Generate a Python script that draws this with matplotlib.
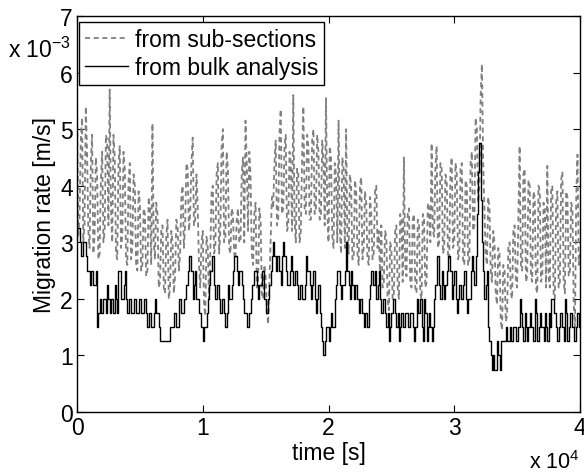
import matplotlib
matplotlib.use("Agg")
import matplotlib.pyplot as plt
import numpy as np

plt.rcParams['font.family'] = ['Liberation Sans', 'DejaVu Sans']

# time axis (s), one sample every 100 s
time_s = np.arange(0, 40001, 100)

# migration rate from sub-sections (x 1e-3 m/s), rows of 1000 s
sub_sections = [
    5.7, 3.1, 3.4, 4.8, 5.2, 3.0, 3.3, 5.4, 4.6, 3.2,
    2.9, 4.4, 4.9, 2.8, 3.1, 4.5, 4.2, 2.7, 2.8, 4.1,
    4.6, 3.0, 3.2, 4.9, 4.8, 3.3, 5.7, 3.6, 3.0, 4.9,
    4.5, 2.8, 2.7, 4.4, 4.7, 2.9, 3.1, 4.6, 4.3, 2.7,
    2.6, 4.1, 4.4, 2.7, 2.9, 4.2, 4.0, 2.6, 2.5, 3.9,
    3.7, 2.5, 2.6, 3.6, 3.5, 2.4, 2.5, 3.8, 3.6, 2.6,
    5.1, 3.0, 2.7, 3.7, 3.5, 2.2, 2.3, 3.2, 3.3, 2.2,
    2.1, 3.1, 3.4, 2.0, 2.2, 3.2, 3.0, 2.1, 2.4, 3.4,
    3.3, 2.5, 2.8, 3.8, 4.0, 2.9, 3.3, 4.4, 4.3, 3.2,
    3.5, 4.4, 4.85, 3.3, 3.4, 4.2, 3.6, 2.6, 2.2, 3.0,
    3.2, 1.9, 1.7, 3.1, 2.9, 2.0, 2.8, 3.9, 4.0, 2.8,
    2.9, 4.2, 4.4, 2.8, 3.2, 4.7, 5.0, 3.0, 3.1, 4.6,
    4.3, 2.9, 2.8, 3.6, 3.5, 2.8, 2.7, 3.4, 3.6, 3.0,
    3.0, 4.2, 4.5, 3.0, 5.15, 4.4, 3.2, 4.6, 4.2, 2.8,
    2.6, 3.5, 3.7, 2.2, 2.3, 3.6, 3.4, 2.1, 2.0, 2.6,
    2.4, 1.8, 1.55, 2.3, 3.0, 3.8, 3.6, 4.4, 4.8, 3.3,
    3.4, 4.9, 5.35, 3.5, 3.6, 4.7, 4.9, 3.2, 3.3, 4.6,
    4.4, 3.2, 5.6, 3.4, 3.0, 4.3, 4.2, 3.0, 3.2, 4.5,
    5.4, 3.6, 3.5, 4.9, 4.7, 3.4, 3.4, 4.8, 5.0, 3.5,
    3.6, 4.9, 4.6, 3.4, 3.5, 4.8, 4.4, 3.3, 5.55, 3.6,
    3.0, 4.7, 4.5, 3.1, 2.9, 4.4, 4.2, 3.0, 5.15, 3.2,
    2.8, 4.5, 4.3, 2.9, 5.0, 3.1, 2.8, 4.2, 4.0, 2.7,
    2.7, 4.1, 3.9, 2.8, 2.6, 4.0, 4.15, 2.7, 2.9, 3.9,
    3.7, 2.7, 2.6, 3.8, 3.5, 2.7, 2.8, 3.9, 4.0, 2.9,
    3.2, 2.4, 3.3, 2.2, 2.3, 3.2, 3.1, 2.0, 1.8, 3.0,
    2.9, 2.0, 2.1, 3.2, 3.3, 2.2, 2.0, 3.5, 3.4, 2.3,
    4.5, 2.6, 2.4, 3.5, 3.6, 2.3, 2.2, 3.4, 3.5, 2.2,
    2.1, 3.4, 3.3, 2.1, 2.0, 3.5, 3.4, 2.2, 2.3, 3.7,
    3.6, 3.0, 4.75, 3.2, 3.1, 4.3, 4.7, 2.9, 3.0, 4.4,
    4.3, 2.8, 2.9, 4.2, 4.1, 2.8, 2.7, 4.3, 4.5, 2.9,
    3.0, 4.4, 4.2, 2.7, 2.8, 4.3, 4.4, 2.7, 2.6, 4.1,
    4.0, 2.6, 2.7, 4.4, 4.6, 3.2, 3.3, 5.2, 5.0, 3.7,
    4.0, 5.6, 6.15, 4.4, 3.6, 2.8, 2.6, 3.8, 3.6, 2.5,
    2.3, 3.2, 3.0, 2.1, 1.9, 2.9, 2.8, 1.6, 1.45, 2.6,
    2.5, 1.6, 1.7, 2.9, 3.0, 2.1, 2.0, 3.2, 3.3, 2.3,
    2.2, 3.5, 4.7, 2.6, 2.5, 4.2, 4.3, 2.3, 2.4, 4.1,
    4.0, 2.4, 2.3, 3.9, 3.8, 2.2, 2.1, 4.0, 3.9, 2.3,
    2.4, 3.7, 3.6, 2.2, 4.35, 2.4, 2.2, 3.9, 4.0, 2.1,
    2.0, 3.7, 3.9, 2.2, 2.3, 4.1, 4.25, 2.3, 2.1, 3.9,
    3.8, 2.4, 2.5, 3.7, 3.6, 1.9, 1.5, 3.8, 4.55, 2.6,
    2.8,
]

# migration rate from bulk analysis (x 1e-3 m/s), rows of 1000 s
bulk = [
    3.25, 3.25, 3.0, 2.75, 2.75, 3.0, 3.0, 2.75, 2.5, 2.5,
    2.25, 2.5, 2.5, 2.25, 2.25, 2.5, 1.5, 1.75, 2.0, 1.75,
    1.75, 2.0, 2.0, 1.75, 2.25, 2.0, 1.75, 2.0, 2.0, 1.75,
    2.25, 2.0, 1.75, 2.5, 2.5, 2.0, 2.0, 2.25, 2.5, 2.0,
    1.75, 2.0, 2.0, 1.75, 1.75, 2.0, 2.0, 1.75, 1.75, 2.0,
    2.0, 1.75, 1.75, 2.0, 2.0, 1.75, 1.5, 1.75, 1.75, 1.5,
    1.5, 1.75, 2.0, 1.75, 1.75, 1.5, 1.25, 1.25, 1.25, 1.25,
    1.25, 1.25, 1.25, 1.25, 1.5, 1.5, 1.5, 1.75, 1.75, 1.5,
    1.5, 2.0, 2.0, 1.75, 1.75, 2.0, 2.0, 2.25, 2.5, 2.75,
    2.75, 2.5, 2.0, 2.25, 2.5, 2.0, 2.0, 1.75, 1.75, 1.5,
    1.25, 1.5, 1.5, 1.75, 2.0, 2.25, 2.5, 2.75, 2.75, 2.25,
    2.0, 2.25, 2.25, 2.0, 1.75, 2.0, 2.0, 1.75, 1.5, 1.75,
    2.25, 2.0, 2.0, 2.25, 2.5, 2.75, 2.75, 2.5, 2.25, 2.5,
    2.5, 2.25, 2.0, 1.75, 1.75, 1.5, 1.5, 1.75, 2.0, 2.25,
    2.25, 2.5, 2.5, 2.25, 2.0, 2.25, 2.25, 2.5, 2.5, 2.0,
    1.75, 1.75, 2.0, 2.25, 2.5, 2.75, 3.0, 2.75, 2.5, 2.75,
    2.75, 2.5, 2.25, 2.75, 3.0, 2.75, 2.5, 2.25, 2.25, 2.5,
    2.75, 2.5, 2.25, 2.5, 2.5, 2.25, 2.0, 2.25, 2.25, 2.0,
    2.0, 2.25, 2.75, 2.5, 2.5, 2.25, 2.0, 2.25, 2.5, 2.0,
    1.75, 2.0, 2.25, 1.75, 1.5, 1.25, 1.0, 1.25, 1.5, 1.5,
    1.25, 1.5, 1.75, 1.5, 1.5, 2.0, 2.25, 2.5, 2.5, 2.25,
    2.0, 2.25, 2.25, 2.5, 3.0, 2.5, 2.25, 2.0, 2.5, 2.25,
    2.0, 2.25, 2.25, 2.0, 1.75, 2.0, 2.0, 1.75, 1.5, 1.75,
    1.75, 1.5, 2.0, 2.25, 2.5, 2.25, 2.25, 2.5, 2.0, 2.25,
    2.5, 2.0, 1.75, 2.0, 2.0, 1.75, 1.5, 1.75, 1.25, 1.5,
    1.75, 2.0, 2.0, 1.75, 1.5, 1.75, 1.25, 1.5, 1.75, 1.5,
    1.5, 1.75, 1.75, 1.5, 1.5, 1.75, 1.75, 1.5, 1.25, 1.5,
    2.0, 1.75, 1.75, 2.0, 1.5, 1.25, 2.0, 1.75, 1.25, 1.5,
    1.75, 1.5, 1.25, 1.5, 2.0, 2.25, 2.75, 2.75, 2.25, 2.0,
    2.5, 2.25, 2.0, 2.25, 2.5, 2.75, 2.75, 2.5, 2.0, 2.25,
    2.5, 2.0, 1.75, 2.0, 2.25, 2.0, 2.0, 2.25, 2.5, 2.0,
    1.75, 2.0, 2.0, 2.5, 2.75, 2.5, 2.25, 2.75, 3.5, 4.25,
    4.75, 3.75, 3.0, 2.5, 2.0, 2.25, 2.5, 1.5, 1.25, 1.0,
    0.75, 1.0, 0.75, 0.75, 1.25, 1.0, 0.75, 1.25, 1.25, 1.25,
    1.25, 1.5, 1.25, 1.25, 1.5, 1.25, 1.25, 1.5, 1.5, 1.25,
    1.25, 1.5, 2.0, 1.75, 1.5, 1.25, 1.75, 1.5, 1.25, 1.5,
    1.75, 1.5, 1.5, 1.25, 2.0, 1.75, 1.25, 1.5, 1.75, 1.5,
    1.5, 1.25, 1.75, 1.5, 1.25, 1.75, 1.5, 2.0, 2.0, 1.75,
    1.75, 1.5, 1.25, 1.5, 1.75, 1.75, 1.5, 1.25, 2.0, 1.75,
    1.25, 1.5, 1.75, 1.75, 1.5, 1.25, 1.25, 1.5, 1.75, 1.5,
    1.5,
]

x_ticks = [0, 10000, 20000, 30000, 40000]
x_tick_labels = ['0', '1', '2', '3', '4']
y_ticks = [0, 1, 2, 3, 4, 5, 6, 7]
y_tick_labels = ['0', '1', '2', '3', '4', '5', '6', '7']

FS = 16.5

fig = plt.figure(figsize=(5.84, 4.77), dpi=100)
ax = fig.add_axes([77/584, 64/477, 503/584, 396/477])

ax.plot(time_s, sub_sections, linestyle=(0, (2.8, 2.0)), color='#808080',
        linewidth=1.3, label='from sub-sections')
ax.plot(time_s, bulk, color='black', linewidth=1.0, drawstyle='steps-post',
        label='from bulk analysis')

ax.set_xlim(0, 40000)
ax.set_ylim(0, 7)
ax.set_xticks(x_ticks)
ax.set_xticklabels(x_tick_labels)
ax.set_yticks(y_ticks)
ax.set_yticklabels(y_tick_labels)
ax.tick_params(direction='in', length=5, width=0.8, top=True, right=True,
               labelsize=FS, pad=3, colors='black')
for s in ax.spines.values():
    s.set_linewidth(1.0)

ax.set_xlabel('time [s]', fontsize=FS, labelpad=1)
ax.set_ylabel('Migration rate [m/s]', fontsize=FS, labelpad=3)

fig.text(8/584, 1 - 50/477, r'x 10$^{\mathregular{-3}}$', fontsize=FS,
         va='center', ha='left')
fig.text(580/584, 3/477, r'x 10$^{\mathregular{4}}$', fontsize=15.5,
         va='bottom', ha='right')

leg = ax.legend(loc='upper left', bbox_to_anchor=(2/503, 1 - 6/396),
                fontsize=FS, frameon=True, fancybox=False,
                edgecolor='black', framealpha=1, borderaxespad=0.0,
                handlelength=1.9, handletextpad=0.3, borderpad=0.25,
                labelspacing=0.25)
leg.get_frame().set_linewidth(1.0)

fig.savefig('out.png', dpi=100)
